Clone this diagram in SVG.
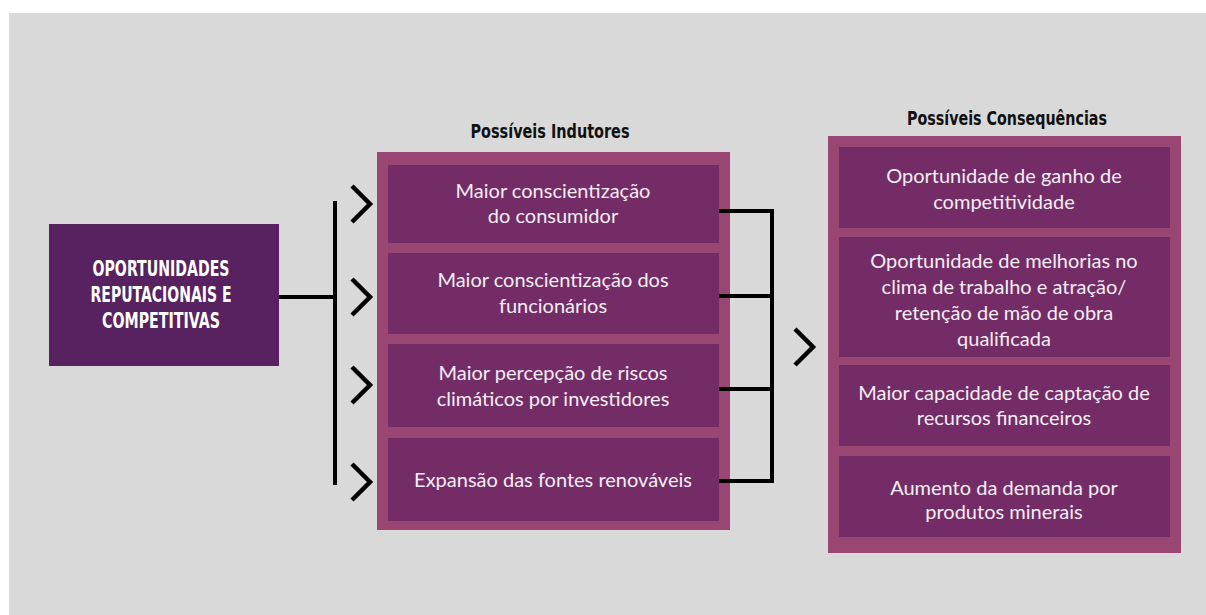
<svg xmlns="http://www.w3.org/2000/svg" width="1206" height="615" viewBox="0 0 1206 615">
<style>
.bg{fill:#d9d9d9}
.outer{fill:#9a4672}
.inner{fill:#742c67}
.main{fill:#57225f}
.t{font-family:Lato,"Open Sans","Liberation Sans",sans-serif;font-size:20px;fill:#f4eef4;text-anchor:middle}
.h{font-family:"DejaVu Sans Condensed","Liberation Sans Narrow","Liberation Sans",sans-serif;font-weight:bold;font-size:19.5px;fill:#111;text-anchor:middle}
.m{font-family:"DejaVu Sans Condensed","Liberation Sans Narrow","Liberation Sans",sans-serif;font-weight:bold;font-size:21px;fill:#fff;text-anchor:middle}
.ln{fill:none;stroke:#000;stroke-width:4}
.ch{fill:none;stroke:#000;stroke-width:4.5;stroke-linecap:butt}
</style>
<rect class="bg" x="9" y="13" width="1197" height="602"/>
<g id="main">
<rect class="main" x="49" y="224" width="230" height="142"/>
<text class="m" x="161" y="276" textLength="137" lengthAdjust="spacingAndGlyphs">OPORTUNIDADES</text>
<text class="m" x="161" y="302" textLength="141" lengthAdjust="spacingAndGlyphs">REPUTACIONAIS E</text>
<text class="m" x="161" y="328" textLength="118" lengthAdjust="spacingAndGlyphs">COMPETITIVAS</text>
</g>
<g id="indutores">
<text class="h" x="550" y="138" textLength="159" lengthAdjust="spacingAndGlyphs">Possíveis Indutores</text>
<rect class="outer" x="377" y="152" width="353" height="378"/>
<g id="ind1"><rect class="inner" x="388" y="165" width="331" height="78"/>
<text class="t" x="553" y="198">Maior conscientização</text><text class="t" x="553" y="223">do consumidor</text></g>
<g id="ind2"><rect class="inner" x="388" y="253" width="331" height="81"/>
<text class="t" x="553" y="287">Maior conscientização dos</text><text class="t" x="553" y="313">funcionários</text></g>
<g id="ind3"><rect class="inner" x="388" y="344" width="331" height="83"/>
<text class="t" x="553" y="380">Maior percepção de riscos</text><text class="t" x="553" y="406">climáticos por investidores</text></g>
<g id="ind4"><rect class="inner" x="388" y="438" width="331" height="83"/>
<text class="t" x="553" y="487">Expansão das fontes renováveis</text></g>
</g>
<g id="consequencias">
<text class="h" x="1007" y="125" textLength="200" lengthAdjust="spacingAndGlyphs">Possíveis Consequências</text>
<rect class="outer" x="828" y="136" width="353" height="417"/>
<g id="con1"><rect class="inner" x="839" y="147" width="331" height="81"/>
<text class="t" x="1004" y="183">Oportunidade de ganho de</text><text class="t" x="1004" y="209">competitividade</text></g>
<g id="con2"><rect class="inner" x="839" y="237" width="331" height="120"/>
<text class="t" x="1004" y="268">Oportunidade de melhorias no</text><text class="t" x="1004" y="294">clima de trabalho e atração/</text><text class="t" x="1004" y="320">retenção de mão de obra</text><text class="t" x="1004" y="346">qualificada</text></g>
<g id="con3"><rect class="inner" x="839" y="365" width="331" height="81"/>
<text class="t" x="1004" y="400">Maior capacidade de captação de</text><text class="t" x="1004" y="425">recursos financeiros</text></g>
<g id="con4"><rect class="inner" x="839" y="456" width="331" height="81"/>
<text class="t" x="1004" y="495">Aumento da demanda por</text><text class="t" x="1004" y="519">produtos minerais</text></g>
</g>
<g id="connectors">
<path class="ln" d="M279 297H335M335 201V485"/>
<path class="ch" d="M352 186L370 204L352 222M352 279L370 297L352 315M352 367L370 385L352 403M352 464L370 482L352 500"/>
<path class="ln" d="M719 211H772V481H719M719 296H772M719 389H772"/>
<path class="ch" d="M795 329L813 347L795 365"/>
</g>
</svg>
